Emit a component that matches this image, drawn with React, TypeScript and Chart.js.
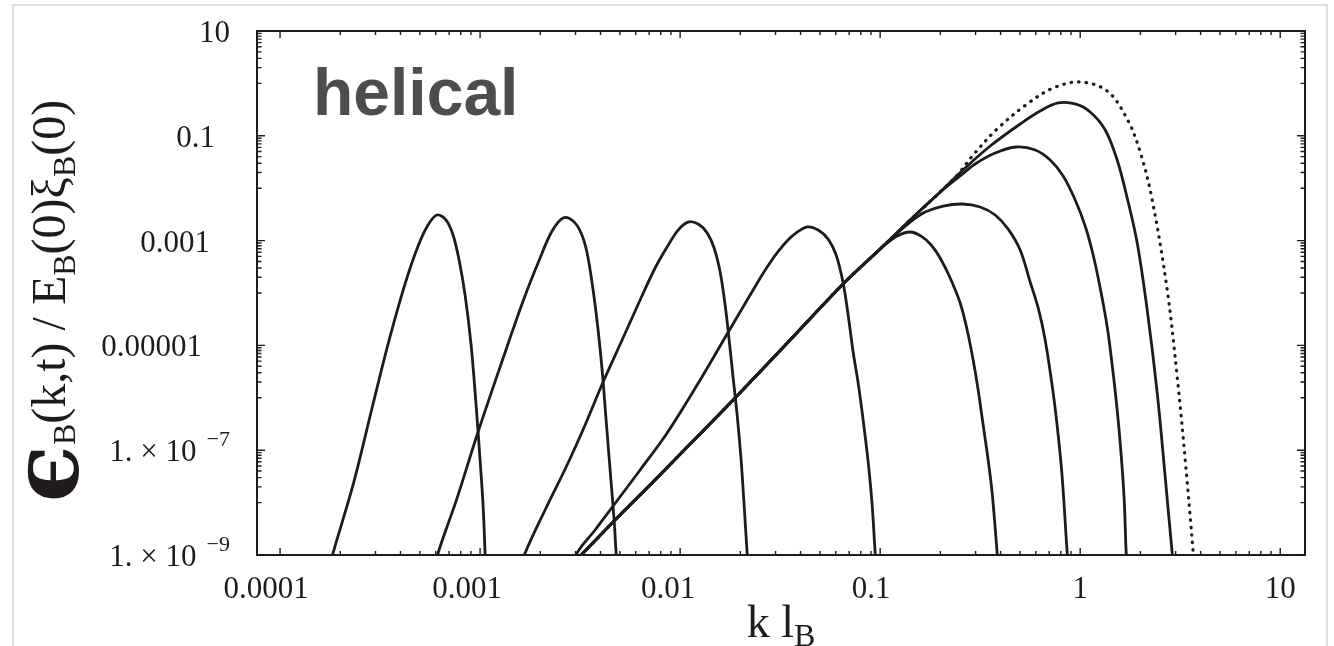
import React, { useEffect, useRef } from "react";
import { Chart, registerables } from "chart.js";

Chart.register(...registerables);

const INK = "#1f1b1c";

// ---- axis ranges ----
const kRange = [7.67e-5, 13.3];
const eRange = [1e-9, 10];

// ---- tick labels ----
const xTickValues = [1e-4, 1e-3, 1e-2, 1e-1, 1, 10];
const xTickLabels = ["0.0001", "0.001", "0.01", "0.1", "1", "10"];
const yTickValues = [10, 1e-1, 1e-3, 1e-5, 1e-7, 1e-9];
const yTickMantissas = ["10", "0.1", "0.001", "0.00001", "1. \u00d7 10", "1. \u00d7 10"];
const yTickExponents = ["", "", "", "", "\u22127", "\u22129"];

// ---- series: [k l_B, spectrum] ----
type Pt = [number, number];

const spectrumT1: Pt[] = [
  [1.738e-4, 4.15e-10], [1.841e-4, 1.09e-9], [2.317e-4, 2.17e-8], [2.884e-4, 6.38e-7],
  [3.467e-4, 1.06e-5], [4.217e-4, 1.49e-4], [4.898e-4, 7.89e-4], [5.495e-4, 1.99e-3],
  [6.095e-4, 3.08e-3], [6.761e-4, 2.47e-3], [7.328e-4, 1.28e-3], [7.852e-4, 4.27e-4],
  [8.414e-4, 9.16e-5], [9.016e-4, 1.02e-5], [9.55e-4, 7.29e-7], [1.0e-3, 6.5e-8],
  [1.035e-3, 9.0e-9], [1.059e-3, 1.09e-9], [1.072e-3, 3.33e-10],
];

const spectrumT2: Pt[] = [
  [5.821e-4, 4.15e-10], [6.166e-4, 1.09e-9], [7.674e-4, 1.22e-8], [9.66e-4, 1.95e-7],
  [1.259e-3, 3.87e-6], [1.641e-3, 7.03e-5], [1.995e-3, 4.66e-4], [2.291e-3, 1.52e-3],
  [2.6e-3, 2.7e-3], [2.917e-3, 2.37e-3], [3.199e-3, 1.4e-3], [3.428e-3, 5.79e-4],
  [3.673e-3, 1.14e-4], [3.89e-3, 1.97e-5], [4.074e-3, 3.4e-6], [4.266e-3, 3.77e-7],
  [4.467e-3, 4.19e-8], [4.677e-3, 4.66e-9], [4.786e-3, 1.09e-9], [4.898e-3, 3.33e-10],
];

const spectrumT3: Pt[] = [
  [1.549e-3, 4.15e-10], [1.679e-3, 1.09e-9], [2.113e-3, 7.23e-9], [2.723e-3, 5.22e-8],
  [3.35e-3, 3.03e-7], [4.121e-3, 2.0e-6], [5.129e-3, 1.27e-5], [6.31e-3, 7.35e-5],
  [7.499e-3, 3.0e-4], [8.61e-3, 7.55e-4], [9.772e-3, 1.59e-3], [1.096e-2, 2.26e-3],
  [1.23e-2, 2.07e-3], [1.365e-2, 1.4e-3], [1.479e-2, 7.23e-4], [1.585e-2, 2.52e-4],
  [1.679e-2, 5.9e-5], [1.758e-2, 1.27e-5], [1.841e-2, 2.39e-6], [1.928e-2, 4.7e-7],
  [2.018e-2, 6.5e-8], [2.089e-2, 9.0e-9], [2.163e-2, 1.09e-9], [2.213e-2, 3.33e-10],
];

const spectrumT4: Pt[] = [
  [2.818e-3, 4.15e-10], [3.055e-3, 1.09e-9], [3.758e-3, 3.0e-9], [4.624e-3, 8.61e-9],
  [6.31e-3, 4.19e-8], [8.61e-3, 2.13e-7], [1.216e-2, 1.75e-6], [1.718e-2, 1.65e-5],
  [2.239e-2, 9.16e-5], [2.723e-2, 3.13e-4], [3.162e-2, 6.92e-4], [3.631e-2, 1.22e-3],
  [4.315e-2, 1.82e-3], [4.898e-2, 1.59e-3], [5.495e-2, 1.07e-3], [6.026e-2, 5.31e-4],
  [6.531e-2, 1.55e-4], [6.918e-2, 3.8e-5], [7.328e-2, 7.48e-6], [7.762e-2, 1.91e-6],
  [8.222e-2, 3.77e-7], [8.71e-2, 5.96e-8], [9.12e-2, 9.0e-9], [9.441e-2, 1.09e-9],
  [9.661e-2, 3.33e-10],
];

// common large-scale rise shared by the later spectra
const envelopeRise: Pt[] = [
  [2.541e-3, 4.15e-10], [3.273e-3, 1.09e-9], [4.732e-3, 4.66e-9], [7.079e-3, 2.17e-8],
  [1.122e-2, 1.31e-7], [1.841e-2, 9.08e-7], [3.548e-2, 1.27e-5], [6.531e-2, 1.49e-4],
  [0.1, 6.92e-4],
];

const spectrumT5: Pt[] = [
  ...envelopeRise,
  [0.1216, 1.22e-3], [0.1413, 1.46e-3], [0.1603, 1.22e-3], [0.1799, 8.24e-4],
  [0.1995, 4.66e-4], [0.2239, 1.93e-4], [0.2512, 6.44e-5], [0.2723, 1.97e-5],
  [0.2917, 5.26e-6], [0.309, 1.41e-6], [0.3273, 3.03e-7], [0.3467, 6.5e-8],
  [0.3631, 1.52e-8], [0.3846, 1.09e-9], [0.3936, 3.33e-10],
];

const spectrumT6: Pt[] = [
  ...envelopeRise,
  [0.1189, 1.28e-3], [0.1413, 2.26e-3], [0.1679, 3.52e-3], [0.2065, 4.57e-3],
  [0.257, 4.99e-3], [0.3162, 4.38e-3], [0.3758, 3.08e-3], [0.4365, 1.66e-3],
  [0.5012, 6.62e-4], [0.5623, 1.62e-4], [0.6166, 5.18e-5], [0.6683, 1.27e-5],
  [0.7328, 1.24e-6], [0.7762, 1.95e-7], [0.8128, 3.08e-8], [0.861, 1.09e-9],
  [0.881, 3.33e-10],
];

const spectrumT7: Pt[] = [
  ...envelopeRise,
  [0.1413, 2.47e-3], [0.1738, 5.21e-3], [0.2113, 1.01e-2], [0.2512, 1.71e-2],
  [0.2985, 2.9e-2], [0.3758, 4.7e-2], [0.4786, 6.11e-2], [0.5957, 5.36e-2],
  [0.7079, 3.45e-2], [0.8222, 1.71e-2], [0.9441, 5.96e-3], [1.059, 1.9e-3],
  [1.161, 5.31e-4], [1.259, 1.24e-4], [1.365, 2.24e-5], [1.445, 4.23e-6],
  [1.531, 5.85e-7], [1.603, 8.09e-8], [1.66, 1.12e-8], [1.698, 1.09e-9],
  [1.738, 3.33e-10],
];

const spectrumT8: Pt[] = [
  ...envelopeRise,
  [0.1413, 2.47e-3], [0.1995, 8.45e-3], [0.2661, 2.43e-2], [0.3548, 6.38e-2],
  [0.5012, 0.168], [0.631, 0.297], [0.7762, 0.423], [0.9441, 0.405],
  [1.122, 0.284], [1.334, 0.129], [1.531, 3.45e-2], [1.718, 6.5e-3],
  [1.928, 9.0e-4], [2.163, 4.74e-5], [2.427, 1.24e-6], [2.661, 3.08e-8],
  [2.884, 1.09e-9], [2.985, 3.33e-10],
];

const spectrumInitial: Pt[] = [
  ...envelopeRise,
  [0.1413, 2.47e-3], [0.1995, 8.45e-3], [0.2455, 1.87e-2], [0.2917, 4.31e-2],
  [0.3846, 0.135], [0.5433, 0.405], [0.7328, 0.817], [1.0, 1.063],
  [1.365, 0.716], [1.718, 0.209], [1.995, 4.91e-2], [2.291, 5.96e-3],
  [2.723, 1.14e-4], [3.055, 2.49e-6], [3.35, 6.5e-8], [3.673, 1.09e-9],
  [3.758, 3.33e-10],
];

const solidSpectra = [
  spectrumT1, spectrumT2, spectrumT3, spectrumT4,
  spectrumT5, spectrumT6, spectrumT7, spectrumT8,
];

// ---- label placement (styling) ----
const X_LABEL_SHIFT = [-14, -13, -12, -9, 0, 0];
const Y_LABEL_RIGHT = [230, 215, 210, 202, 230, 230];
const TICK_FONT = '31px "Liberation Serif", "Times New Roman", serif';
const SUP_FONT = '22px "Liberation Serif", "Times New Roman", serif';

const decorPlugin = {
  id: "decor",
  afterDraw(chart: any) {
    const { ctx, chartArea: a, scales } = chart;
    const xs = scales.x;
    const ys = scales.y;
    ctx.save();

    // page frame (light)
    ctx.strokeStyle = "#dedede";
    ctx.lineWidth = 2;
    ctx.strokeRect(13, 5, 1314, 700);

    // plot frame
    ctx.strokeStyle = INK;
    ctx.lineWidth = 2;
    ctx.strokeRect(a.left, a.top, a.right - a.left, a.bottom - a.top);

    // ticks (inward, all four sides)
    ctx.lineWidth = 1.4;
    ctx.beginPath();
    for (let d = -4; d <= 1; d++) {
      for (let m = 1; m <= 9; m++) {
        const v = m * Math.pow(10, d);
        if (v > 10.0001) break;
        const px = xs.getPixelForValue(v);
        if (px < a.left || px > a.right) continue;
        const len = m === 1 ? 7 : 4;
        ctx.moveTo(px, a.bottom);
        ctx.lineTo(px, a.bottom - len);
        ctx.moveTo(px, a.top);
        ctx.lineTo(px, a.top + len);
      }
    }
    for (const v of yTickValues) {
      const py = ys.getPixelForValue(v);
      ctx.moveTo(a.left, py);
      ctx.lineTo(a.left + 8, py);
      ctx.moveTo(a.right, py);
      ctx.lineTo(a.right - 8, py);
      if (v <= eRange[0] * 1.0001) continue;
      for (let m = 1; m <= 9; m++) {
        const mv = (m * v) / 10;
        const pm = ys.getPixelForValue(mv);
        ctx.moveTo(a.left, pm);
        ctx.lineTo(a.left + 4.5, pm);
        ctx.moveTo(a.right, pm);
        ctx.lineTo(a.right - 4.5, pm);
      }
    }
    ctx.stroke();

    // tick labels
    ctx.fillStyle = INK;
    ctx.textBaseline = "alphabetic";
    ctx.font = TICK_FONT;
    ctx.textAlign = "center";
    xTickValues.forEach((v, i) => {
      ctx.fillText(xTickLabels[i], xs.getPixelForValue(v) + X_LABEL_SHIFT[i], 598);
    });
    yTickValues.forEach((v, i) => {
      const py = ys.getPixelForValue(v);
      let right = Y_LABEL_RIGHT[i];
      const exp = yTickExponents[i];
      if (exp) {
        ctx.font = SUP_FONT;
        ctx.textAlign = "right";
        ctx.fillText(exp, right, py - 4);
        right -= ctx.measureText(exp).width + 10;
      }
      ctx.font = TICK_FONT;
      ctx.textAlign = "right";
      ctx.fillText(yTickMantissas[i], right, py + 11);
    });

    // x axis title: k l_B
    {
      const main = '46px "Liberation Serif", serif';
      const sub = '32px "Liberation Serif", serif';
      ctx.font = main;
      const w1 = ctx.measureText("k l").width;
      ctx.font = sub;
      const w2 = ctx.measureText("B").width;
      const cx = (a.left + a.right) / 2;
      const x0 = cx - (w1 + w2) / 2;
      ctx.textAlign = "left";
      ctx.font = main;
      ctx.fillText("k l", x0, 637);
      ctx.font = sub;
      ctx.fillText("B", x0 + w1, 646);
    }

    // y axis title (rotated)
    {
      const big = 'bold 94px "DejaVu Serif", serif';
      const main = '48px "Liberation Serif", serif';
      const sub = '32px "Liberation Serif", serif';
      const segs = [
        { t: "\u03f5", f: big, dy: 13 },
        { t: "B", f: sub, dy: 10 },
        { t: "(k,t) / E", f: main, dy: 0 },
        { t: "B", f: sub, dy: 10 },
        { t: "(0)\u03be", f: main, dy: 0 },
        { t: "B", f: sub, dy: 10 },
        { t: "(0)", f: main, dy: 0 },
      ];
      let total = 0;
      const widths = segs.map((s) => {
        ctx.font = s.f;
        const w = ctx.measureText(s.t).width;
        total += w;
        return w;
      });
      ctx.save();
      ctx.translate(65, (a.top + a.bottom) / 2 + 8);
      ctx.rotate(-Math.PI / 2);
      ctx.textAlign = "left";
      let x = -total / 2;
      segs.forEach((s, i) => {
        ctx.font = s.f;
        ctx.fillText(s.t, x, s.dy);
        x += widths[i];
      });
      ctx.restore();
    }

    // panel tag
    ctx.font = 'bold 66px "Liberation Sans", Arial, sans-serif';
    ctx.fillStyle = "#4d4d4d";
    ctx.textAlign = "left";
    ctx.fillText("helical", 313, 115);

    ctx.restore();
  },
};

export default function App() {
  const ref = useRef<HTMLCanvasElement>(null);
  useEffect(() => {
    const canvas = ref.current;
    if (!canvas) return;
    const mk = (pts: Pt[], dotted: boolean) => ({
      data: pts.map(([x, y]) => ({ x, y })),
      borderColor: INK,
      borderWidth: dotted ? 3.2 : 2.8,
      borderDash: dotted ? [0.5, 7] : [],
      borderCapStyle: dotted ? "round" : "butt",
      borderJoinStyle: "round",
      pointRadius: 0,
      fill: false,
      tension: 0.35,
      clip: 0,
    });
    const chart = new Chart(canvas, {
      type: "line",
      data: {
        datasets: [
          ...solidSpectra.map((s) => mk(s, false)),
          mk(spectrumInitial, true),
        ] as any,
      },
      options: {
        responsive: false,
        animation: false,
        devicePixelRatio: 1,
        layout: { padding: { top: 31, right: 29, left: 0, bottom: 0 } },
        plugins: { legend: { display: false }, tooltip: { enabled: false } },
        scales: {
          x: {
            type: "logarithmic",
            min: kRange[0],
            max: kRange[1],
            bounds: "data",
            ticks: { display: false },
            grid: { display: false },
            border: { display: false },
            afterFit: (s: any) => {
              s.height = 91;
            },
          },
          y: {
            type: "logarithmic",
            min: eRange[0],
            max: eRange[1],
            bounds: "data",
            ticks: { display: false },
            grid: { display: false },
            border: { display: false },
            afterFit: (s: any) => {
              s.width = 257;
            },
          },
        },
      } as any,
      plugins: [decorPlugin],
    });
    return () => chart.destroy();
  }, []);
  return (
    <canvas
      ref={ref}
      width={1334}
      height={646}
      style={{ position: "fixed", left: 0, top: 0, width: 1334, height: 646 }}
    />
  );
}
